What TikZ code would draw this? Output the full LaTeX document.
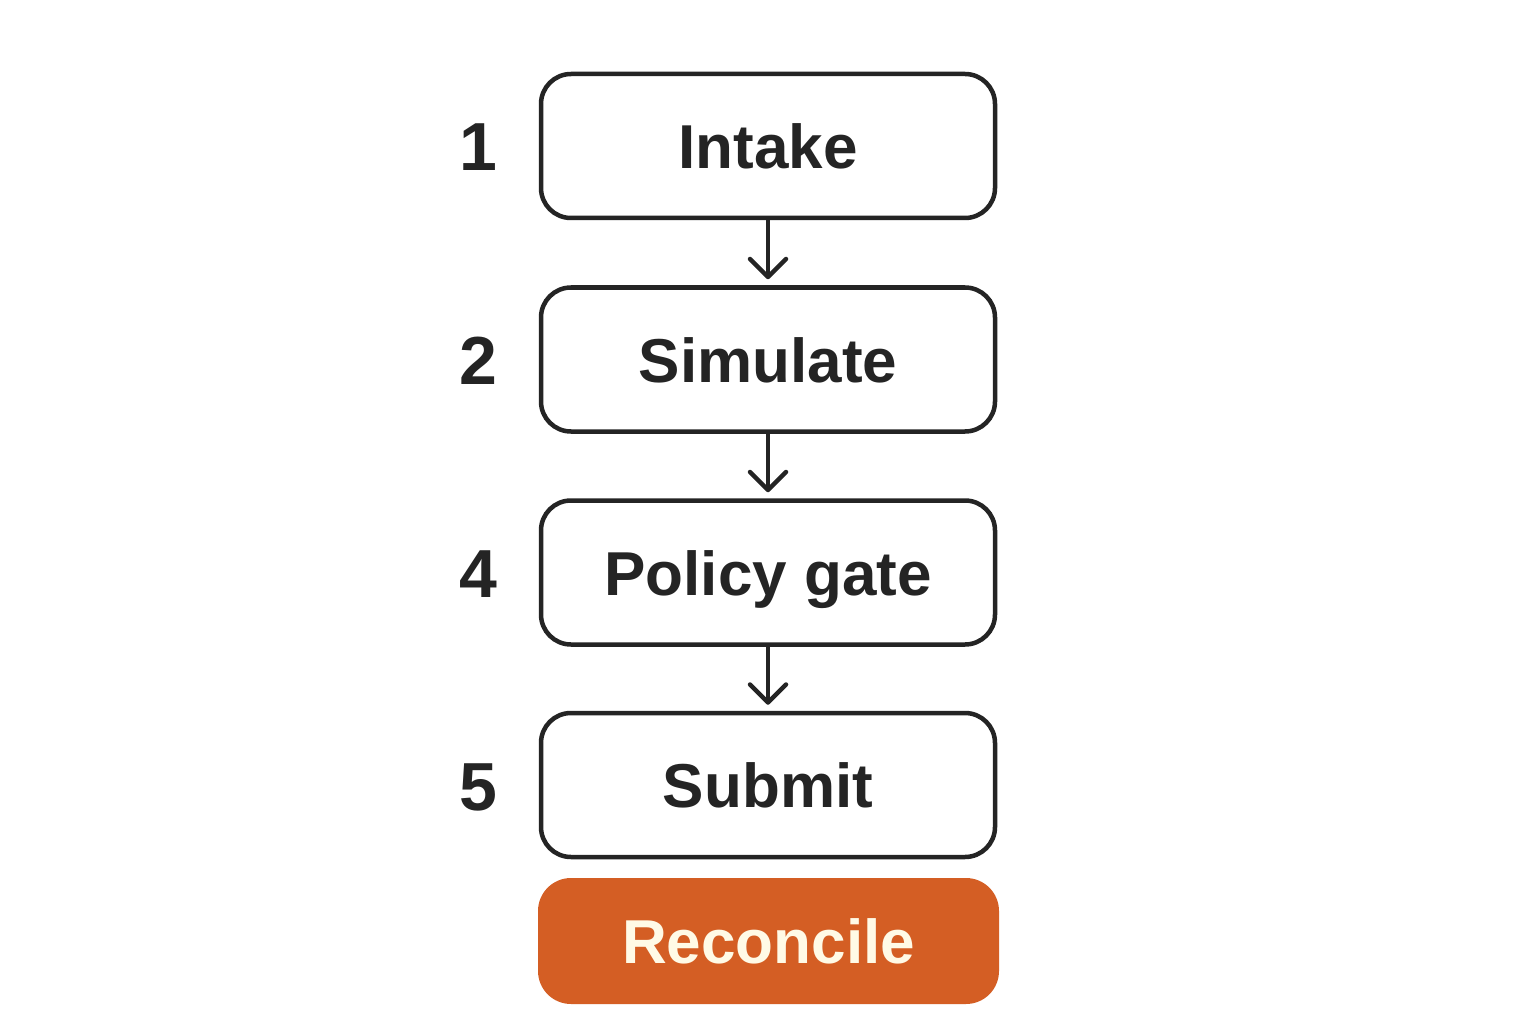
\documentclass[tikz,border=0pt]{standalone}
\usepackage{fontspec}
\setmainfont{Liberation Sans}
\usetikzlibrary{arrows.meta}
\definecolor{ink}{HTML}{242424}
\definecolor{orng}{HTML}{D45E24}
\definecolor{cream}{HTML}{FFFAE6}
\tikzset{
  stepbox/.style={draw=ink, line width=4.5pt, rounded corners=30pt, fill=white,
    minimum width=454pt, minimum height=144pt, inner sep=0pt,
    font=\bfseries\fontsize{62}{70}\selectfont, text=ink,
    text height=45pt, text depth=0pt},
  endbox/.style={fill=orng, draw=none, rounded corners=33pt,
    minimum width=461pt, minimum height=126pt, inner sep=0pt,
    font=\bfseries\fontsize{62}{70}\selectfont, text=cream,
    text height=45pt, text depth=0pt},
  numlbl/.style={font=\bfseries\fontsize{68}{76}\selectfont, text=ink,
    inner sep=0pt, text height=50pt, text depth=0pt},
  flow/.style={draw=ink, line width=4pt,
    -{Straight Barb[length=18pt,width=36pt,line width=4.5pt,round]},
    shorten >=6pt}
}
\begin{document}
\begin{tikzpicture}[x=1pt,y=-1pt]
\useasboundingbox (0,0) rectangle (1536,1024);
\fill[white] (0,0) rectangle (1536,1024);
\node[stepbox] (intake) at (768,146) {Intake};
\node[stepbox] (sim) at (768,359.5) {Simulate};
\node[stepbox] (policy) at (768,572.5) {Policy gate};
\node[stepbox] (submit) at (768,785) {Submit};
\node[endbox] (recon) at (768.5,941) {Reconcile};
\node[numlbl] (n1) at (478,146) {1};
\node[numlbl] (n2) at (478,359.5) {2};
\node[numlbl] (n4) at (478,572.5) {4};
\node[numlbl] (n5) at (478,785) {5};
\draw[flow] (intake.south) -- (sim.north);
\draw[flow] (sim.south) -- (policy.north);
\draw[flow] (policy.south) -- (submit.north);
\end{tikzpicture}
\end{document}
